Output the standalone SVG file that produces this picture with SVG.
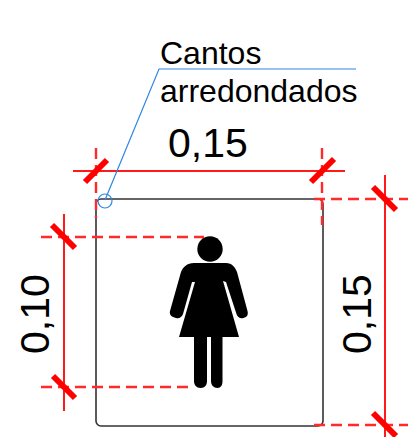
<svg xmlns="http://www.w3.org/2000/svg" width="408" height="437" viewBox="0 0 408 437">
<style>
.t{font-family:"Liberation Sans",Arial,sans-serif;fill:#000}
.d{fill:none;stroke:#ff1a1a;stroke-width:2}
.h{fill:none;stroke:#ff2a2a;stroke-width:2.4;stroke-dasharray:11 6}
.k{fill:none;stroke:#f00;stroke-width:6}
.b{fill:none;stroke:#2f86e0;stroke-width:1.2}
</style>
<rect width="408" height="437" fill="#fff"/>
<g id="plate"><rect x="96" y="199" width="227" height="227" rx="5" fill="none" stroke="#333" stroke-width="1.6"/></g>
<g id="person" fill="#000">
<circle cx="210" cy="249" r="12.7"/>
<path d="M194 263H226C232 263 235 267 237 272L247.500 311C248.500 315 247 317 243.500 318C240 319 237.500 317 236.500 314L226 282L223 281L239 337H222.500V381C222.500 385 221 388 217.500 388C213.500 388 211 385 211 381V337H207V381C207 385 205 388 200.500 388C196.500 388 194 385 194 381V337H179L195 282L192 282L183 314C182 317 179 319 176 318C172 317 169 315 170 311L181 272C183 267 187 263 194 263Z"/>
</g>
<g id="connectors">
<path class="d" d="M73 171H345"/>
<path class="h" d="M96 148V218"/>
<path class="k" d="M85 182L107 160"/>
<path class="h" d="M322 148V225"/>
<path class="k" d="M311 182L334 159"/>
<path class="h" d="M314 199H408"/>
<path class="d" d="M385 175V437"/>
<path class="k" d="M373 187L396 210"/>
<path class="h" d="M314 425H408"/>
<path class="k" d="M373 413L396 436"/>
<path class="d" d="M64 214V411"/>
<path class="h" d="M41 237H204"/>
<path class="k" d="M52 225L75 248"/>
<path class="h" d="M41 387H194"/>
<path class="k" d="M53 376L75 398"/>
<path class="b" d="M105 200L159 69H356"/>
<circle class="b" cx="105" cy="201" r="7"/>
</g>
<g id="labels">
<text class="t" x="160" y="64" font-size="32">Cantos</text>
<text class="t" x="160" y="102" font-size="32">arredondados</text>
<text class="t" x="168" y="157" font-size="41">0,15</text>
<text class="t" font-size="41" transform="translate(49 354) rotate(-90)">0,10</text>
<text class="t" font-size="41" transform="translate(371 354) rotate(-90)">0,15</text>
</g>
</svg>
